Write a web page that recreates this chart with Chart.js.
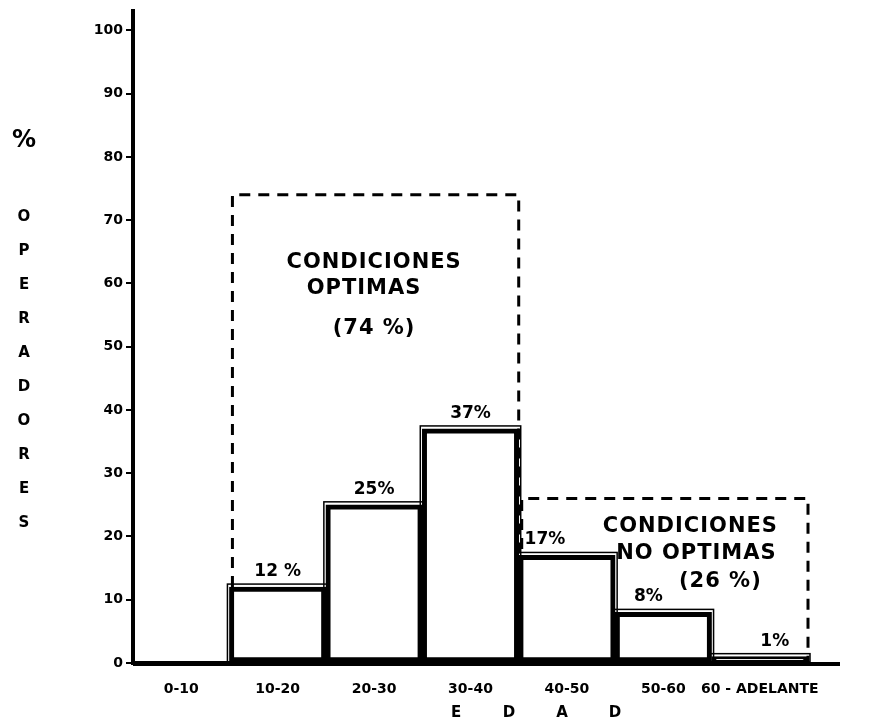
<!DOCTYPE html>
<html>
<head>
<meta charset="utf-8">
<script src="https://cdn.jsdelivr.net/npm/chart.js@4"></script>
<style>
  html, body { margin: 0; padding: 0; background: #fff; }
  #wrap { width: 872px; height: 728px; }
</style>
</head>
<body>
<div id="wrap"><canvas id="myChart" width="872" height="728"></canvas></div>
<script>
const ageGroups = ["0-10", "10-20", "20-30", "30-40", "40-50", "50-60", "60 - ADELANTE"];
const operatorPct = [0, 12, 25, 37, 17, 8, 1];
const pctLabels = ["", "12 %", "25%", "37%", "17%", "8%", "1%"];
const yTicks = [0, 10, 20, 30, 40, 50, 60, 70, 80, 90, 100];

// dashed boxes: first/last category index, box height (%), text lines
const groupNames = [["CONDICIONES", "OPTIMAS", "(74 %)"], ["CONDICIONES", "NO OPTIMAS", "(26 %)"]];
const groupTotals = [74, 26];
const groupRanges = [[1, 3], [4, 6]];

const yTitle = ["%", "", "O", "P", "E", "R", "A", "D", "O", "R", "E", "S"];
const xTitle = ["E", "D", "A", "D"];

const ink = "#000";
const font = "'DejaVu Sans', sans-serif";

const extras = {
  id: "extras",
  beforeDatasetsDraw(chart) {
    const ctx = chart.ctx;
    const y = chart.scales.y;
    const bars = chart.getDatasetMeta(0).data;
    ctx.save();
    ctx.strokeStyle = ink;
    ctx.lineWidth = 3;
    ctx.setLineDash([11, 8]);
    groupTotals.forEach((t, g) => {
      const a = bars[groupRanges[g][0]], b = bars[groupRanges[g][1]];
      const left = a.x - a.width / 2 + 3;
      const right = b.x + b.width / 2;
      const top = y.getPixelForValue(t);
      const bottom = y.getPixelForValue(0);
      ctx.beginPath();
      ctx.moveTo(left, bottom);
      ctx.lineTo(left, top);
      ctx.lineTo(right, top);
      ctx.lineTo(right, bottom);
      ctx.stroke();
    });
    ctx.restore();
  },
  afterDatasetsDraw(chart) {
    const ctx = chart.ctx;
    const y = chart.scales.y;
    const area = chart.chartArea;
    const bars = chart.getDatasetMeta(0).data;
    ctx.save();
    // thin outer outline of each bar
    ctx.strokeStyle = ink;
    ctx.lineWidth = 1.5;
    bars.forEach((b, i) => {
      if (!operatorPct[i]) return;
      ctx.strokeRect(b.x - b.width / 2 - 2, b.y - 3, b.width + 4, b.base - b.y + 3);
    });
    // x axis runs on past the last bar
    ctx.lineWidth = 4;
    ctx.beginPath();
    ctx.moveTo(area.left, area.bottom + 1);
    ctx.lineTo(840, area.bottom + 1);
    ctx.stroke();
    // value labels
    ctx.fillStyle = ink;
    ctx.font = "bold 17px " + font;
    ctx.textAlign = "center";
    ctx.textBaseline = "bottom";
    const nudge = [0, 0, 0, 0, -22, -15, 15];
    bars.forEach((b, i) => {
      if (pctLabels[i]) ctx.fillText(pctLabels[i], b.x + nudge[i], b.y - 7);
    });
    // box captions
    ctx.font = "bold 21px " + font;
    ctx.letterSpacing = "1px";
    ctx.textBaseline = "middle";
    groupNames.forEach((lines, g) => {
      const a = bars[groupRanges[g][0]], c = bars[groupRanges[g][1]];
      const cx = (a.x - a.width / 2 + c.x + c.width / 2) / 2;
      const top = y.getPixelForValue(groupTotals[g]);
      const gaps = g === 0 ? [68, 94, 134] : [28, 55, 83];
      const shift = g === 0 ? [0, -10, 0] : [27, 33, 57];
      lines.forEach((s, k) => ctx.fillText(s, cx + shift[k], top + gaps[k]));
    });
    ctx.letterSpacing = "0px";
    // stacked y title
    yTitle.forEach((s, k) => {
      if (!s) return;
      const yy = k === 0 ? 141 : 217 + (k - 2) * 34;
      ctx.font = k === 0 ? "bold 24px " + font : "bold 15px " + font;
      ctx.fillText(s, 24, yy);
    });
    // spaced x title
    ctx.font = "bold 15px " + font;
    xTitle.forEach((s, k) => ctx.fillText(s, 456 + k * 53, 713));
    ctx.restore();
  }
};

new Chart(document.getElementById("myChart"), {
  type: "bar",
  data: {
    labels: ageGroups,
    datasets: [{
      data: operatorPct,
      backgroundColor: "#fff",
      borderColor: ink,
      borderWidth: 5,
      borderSkipped: false,
      barPercentage: 1,
      categoryPercentage: 1
    }]
  },
  options: {
    responsive: false,
    animation: false,
    layout: { padding: { top: 8, right: 64, left: 0, bottom: 0 } },
    plugins: { legend: { display: false }, tooltip: { enabled: false } },
    scales: {
      x: {
        afterFit(s) { s.height = 65; },
        border: { color: ink, width: 4 },
        grid: { display: false },
        ticks: { color: ink, font: { family: font, weight: "bold", size: 14 }, padding: 10, maxRotation: 0, autoSkip: false }
      },
      y: {
        min: 0,
        max: 103,
        afterFit(s) { s.width = 133; },
        afterBuildTicks(s) { s.ticks = yTicks.map(v => ({ value: v })); },
        border: { color: ink, width: 4 },
        grid: { drawOnChartArea: false, color: ink, lineWidth: 2, tickLength: 7 },
        ticks: { color: ink, font: { family: font, weight: "bold", size: 14 }, padding: 3 }
      }
    }
  },
  plugins: [extras]
});
</script>
</body>
</html>
